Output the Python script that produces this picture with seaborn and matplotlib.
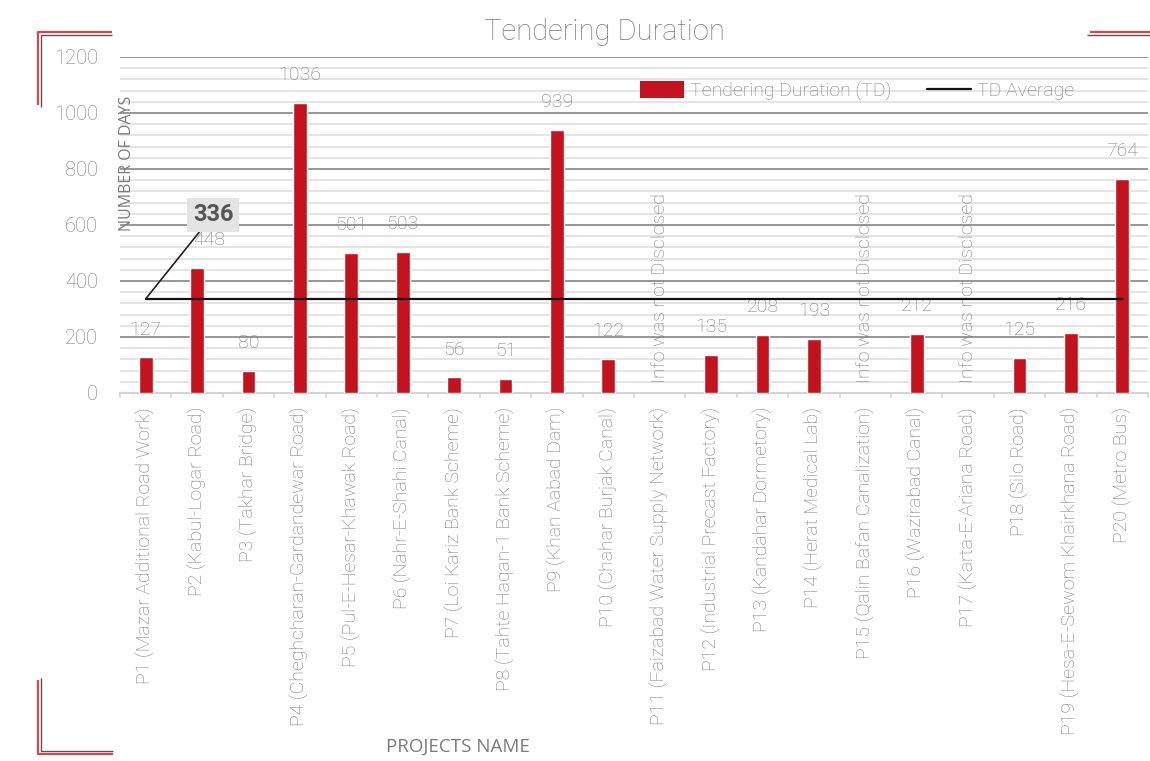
import numpy as np
import pandas as pd
import matplotlib
matplotlib.use("Agg")
import matplotlib.pyplot as plt
from matplotlib.lines import Line2D
from matplotlib.patches import Patch
from matplotlib.ticker import MultipleLocator
import seaborn as sns

# ---- data ----
projects = [
    "P1 (Mazar Additional Road Work)",
    "P2 (Kabul-Logar Road)",
    "P3 (Takhar Bridge)",
    "P4 (Cheghcharan-Gardandewar Road)",
    "P5 (Pul-E-Hesar-Khawak Road)",
    "P6 (Nahr-E-Shahi Canal)",
    "P7 (Loi Kariz Bank Scheme)",
    "P8 (Tahte Haqan-1 Bank Scheme)",
    "P9 (Khan Aabad Dam)",
    "P10 (Chahar Burjak Canal)",
    "P11 (Faizabad Water Supply Network)",
    "P12 (Industrial Precast Factory)",
    "P13 (Kandahar Dormetory)",
    "P14 (Herat Medical Lab)",
    "P15 (Qalin Bafan Canalization)",
    "P16 (Wazirabad Canal)",
    "P17 (Karta-E-Ariana Road)",
    "P18 (Silo Road)",
    "P19 (Hesa-E-Sewom Khairkhana Road)",
    "P20 (Metro Bus)",
]
tendering_days = [127, 448, 80, 1036, 501, 503, 56, 51, 939, 122,
                  np.nan, 135, 208, 193, np.nan, 212, np.nan, 125, 216, 764]
y_ticks = [0, 200, 400, 600, 800, 1000, 1200]
undisclosed_text = "Info was not Disclosed"

df = pd.DataFrame({"project": projects, "days": tendering_days})
td_average = float(np.nanmean(df["days"]))

# ---- style ----
sns.set_theme(style="white")
plt.rcParams["font.family"] = ["Roboto", "DejaVu Sans"]
TXT = "#7c7c7c"
RED = "#c4121f"
LW = "light"

fig = plt.figure(figsize=(11.5, 7.61), dpi=100)
fig.patch.set_facecolor("white")
ax = fig.add_axes([120 / 1150, 368 / 761, 1028 / 1150, 336 / 761])
ax.set_facecolor("none")

# grid: major every 200, minor every 40
ax.set_ylim(0, 1200)
ax.set_xlim(-0.5, len(projects) - 0.5)
ax.yaxis.set_major_locator(MultipleLocator(200))
ax.yaxis.set_minor_locator(MultipleLocator(40))
ax.grid(axis="y", which="minor", color="#dcdcdc", lw=1.1, zorder=0)
ax.grid(axis="y", which="major", color="#8e8e8e", lw=1.3, zorder=0)
ax.set_axisbelow(True)

sns.barplot(data=df, x="project", y="days", order=projects, color=RED,
            width=0.27, saturation=1, ax=ax, zorder=3, errorbar=None)

# value labels above bars / note for missing values
for i, v in enumerate(tendering_days):
    if np.isnan(v):
        ax.text(i, 35, undisclosed_text, rotation=90, ha="center", va="bottom",
                color=TXT, fontsize=14, fontweight=LW, zorder=4)
    else:
        dx = 9 if i == 1 else 0  # nudge clear of the average callout
        ax.annotate(f"{int(v)}", xy=(i, v), xytext=(dx, 20), textcoords="offset points",
                    ha="center", va="center", color=TXT, fontsize=14,
                    fontweight=LW, zorder=4)

# average line
ax.plot([0, len(projects) - 1], [td_average, td_average], color="#111111",
        lw=1.6, zorder=5)
ax.annotate(f"{td_average:.0f}", xy=(0, td_average), xytext=(1.31, 636),
            textcoords="data", ha="center", va="center", fontsize=17,
            fontweight="bold", color="#555555", zorder=6,
            bbox=dict(boxstyle="square,pad=0.25", fc="#e4e4e4", ec="none"),
            arrowprops=dict(arrowstyle="-", color="#222222", lw=1.2,
                            shrinkA=0, shrinkB=0))

# axes cosmetics
for s in ["top", "right", "left"]:
    ax.spines[s].set_visible(False)
ax.spines["bottom"].set_color("#d4d4d4")
ax.spines["bottom"].set_linewidth(1.5)
ax.set_yticks(y_ticks)
ax.set_yticklabels([str(t) for t in y_ticks], color=TXT, fontsize=14.5,
                   fontweight=LW)
ax.tick_params(axis="y", which="both", length=0, pad=16)
ax.set_xticks(np.arange(len(projects)))
ax.set_xticklabels(projects, rotation=90, color=TXT, fontsize=14,
                   fontweight=LW)
ax.tick_params(axis="x", length=0, pad=10)
for b in np.arange(-0.5, len(projects), 1.0):
    ax.plot([b, b], [0, -14], color="#d4d4d4", lw=1.2, clip_on=False, zorder=1)
ax.set_xlabel("")
ax.set_ylabel("")

# titles and axis names
fig.text(604 / 1150, 1 - 32 / 761, "Tendering Duration", ha="center", va="center",
         color=TXT, fontsize=21, fontweight=LW)
fig.text(127 / 1150, 1 - 163 / 761, "NUMBER OF DAYS", rotation=90, ha="center",
         va="center", color="#7a7a7a", fontsize=11.5, family=["Open Sans", "DejaVu Sans"])
fig.text(458 / 1150, 1 - 747 / 761, "PROJECTS NAME", ha="center", va="center",
         color="#7a7a7a", fontsize=13.5, family=["Open Sans", "DejaVu Sans"])

# legend
handles = [Patch(facecolor=RED, edgecolor="none"),
           Line2D([0], [0], color="#111111", lw=1.6)]
leg = fig.legend(handles, ["Tendering Duration (TD)", "TD Average"],
                 loc="center", bbox_to_anchor=(857 / 1150, 1 - 91 / 761),
                 ncol=2, frameon=False, fontsize=14, handlelength=2.3,
                 handleheight=0.9, columnspacing=1.8, handletextpad=0.3)
for t in leg.get_texts():
    t.set_color(TXT)
    t.set_fontweight(LW)

# decorative corner brackets
def fig_line(xs, ys, color, lw):
    fig.add_artist(Line2D([x / 1150 for x in xs], [1 - y / 761 for y in ys],
                          color=color, lw=lw, transform=fig.transFigure,
                          solid_capstyle="butt"))

fig_line([38, 38, 112], [105, 32, 32], "#d9444f", 1.6)
fig_line([41, 41, 112], [107, 35, 35], "#555555", 1.0)
fig_line([1090, 1150], [32, 32], "#d9444f", 1.6)
fig_line([1087, 1150], [34.5, 34.5], "#555555", 1.0)
fig_line([38, 38, 113], [680, 754, 754], "#d9444f", 1.6)
fig_line([41, 41, 113], [678, 751, 751], "#555555", 1.0)

fig.savefig("out.png", dpi=100, facecolor=fig.get_facecolor())
